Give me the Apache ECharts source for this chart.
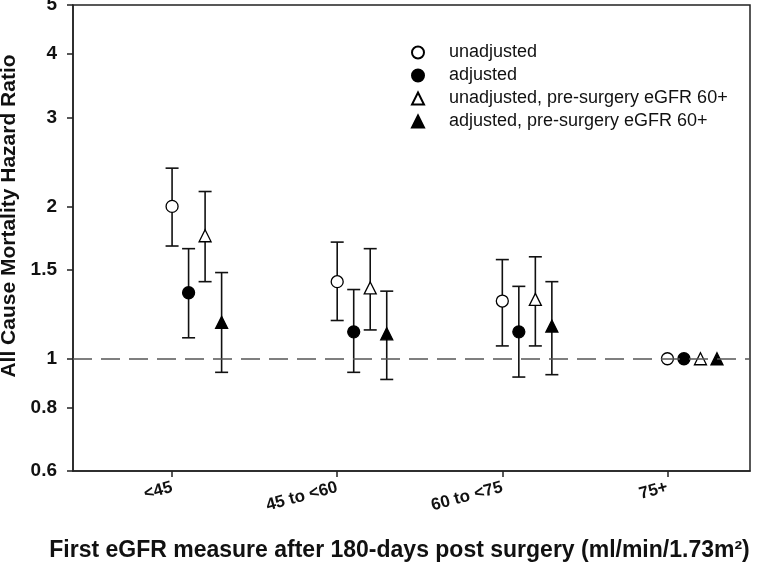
<!DOCTYPE html>
<html>
<head>
<meta charset="utf-8">
<title>All cause mortality hazard ratio by eGFR</title>
<script src="https://cdn.jsdelivr.net/npm/echarts@6/dist/echarts.min.js"></script>
<style>
  html, body { margin: 0; padding: 0; background: #fff; }
  #chart { width: 760px; height: 568px; }
</style>
</head>
<body>
<div id="chart"></div>
<script>
// eGFR groups (x axis)
var categories = ['<45', '45 to <60', '60 to <75', '75+']
var seriesNames = [
  'unadjusted',
  'adjusted',
  'unadjusted, pre-surgery eGFR 60+',
  'adjusted, pre-surgery eGFR 60+'
]

// hazard ratios + 95% CI (75+ is the reference group)
var unadjHR = [2.00, 1.42, 1.30, 1.00]
var unadjLo = [1.67, 1.19, 1.06, null]
var unadjHi = [2.38, 1.70, 1.57, null]

var adjHR = [1.35, 1.13, 1.13, 1.00]
var adjLo = [1.10, 0.94, 0.92, null]
var adjHi = [1.65, 1.37, 1.39, null]

var unadj60HR = [1.75, 1.38, 1.31, 1.00]
var unadj60Lo = [1.42, 1.14, 1.06, null]
var unadj60Hi = [2.14, 1.65, 1.59, null]

var adj60HR = [1.18, 1.12, 1.16, 1.00]
var adj60Lo = [0.94, 0.91, 0.93, null]
var adj60Hi = [1.48, 1.36, 1.42, null]

var yTicks = [0.6, 0.8, 1, 1.5, 2, 3, 4, 5]
var xTicks = [1, 2, 3, 4]

var FONT = 'Liberation Sans, Arial, Helvetica, sans-serif'
var dodge = 0.1 // horizontal shift between the four estimates of a group

var groups = [
  { hr: unadjHR, lo: unadjLo, hi: unadjHi, symbol: 'circle', fill: '#fff', size: 12 },
  { hr: adjHR, lo: adjLo, hi: adjHi, symbol: 'circle', fill: '#000', size: 12 },
  { hr: unadj60HR, lo: unadj60Lo, hi: unadj60Hi, symbol: 'triangle', fill: '#fff', size: 12 },
  { hr: adj60HR, lo: adj60Lo, hi: adj60Hi, symbol: 'triangle', fill: '#000', size: 12 }
]

function renderErr(params, api) {
  var x = api.value(0)
  var p1 = api.coord([x, api.value(1)])
  var p2 = api.coord([x, api.value(2)])
  var w = 6.5
  var st = { stroke: '#111', lineWidth: 1.6 }
  return {
    type: 'group',
    children: [
      { type: 'line', shape: { x1: p1[0], y1: p1[1], x2: p2[0], y2: p2[1] }, style: st },
      { type: 'line', shape: { x1: p1[0] - w, y1: p1[1], x2: p1[0] + w, y2: p1[1] }, style: st },
      { type: 'line', shape: { x1: p2[0] - w, y1: p2[1], x2: p2[0] + w, y2: p2[1] }, style: st }
    ]
  }
}

var series = []

// reference line at HR = 1
series.push({
  type: 'line',
  data: [],
  z: 1,
  silent: true,
  markLine: {
    silent: true,
    symbol: 'none',
    label: { show: false },
    lineStyle: { color: '#555', width: 1.5, type: [19, 9] },
    data: [{ yAxis: 1 }]
  }
})

groups.forEach(function (g, k) {
  var errData = []
  var pts = []
  categories.forEach(function (c, i) {
    var x = i + 1 + k * dodge
    pts.push([x, g.hr[i]])
    if (g.lo[i] != null) errData.push([x, g.lo[i], g.hi[i]])
  })
  series.push({
    type: 'custom',
    name: seriesNames[k] + ' CI',
    renderItem: renderErr,
    encode: { x: 0, y: [1, 2] },
    data: errData,
    z: 2,
    silent: true
  })
  series.push({
    type: 'scatter',
    name: seriesNames[k],
    data: pts,
    symbol: g.symbol,
    symbolSize: g.size,
    itemStyle: { color: g.fill, borderColor: '#000', borderWidth: 1.3, opacity: 1 },
    z: 3,
    silent: true
  })
})

var chart = echarts.init(document.getElementById('chart'))
chart.setOption({
  animation: false,
  backgroundColor: '#fff',
  textStyle: { fontFamily: FONT },
  grid: {
    left: 73, right: 10, top: 5, bottom: 97,
    show: true, borderColor: '#222', borderWidth: 1.5,
    containLabel: false, outerBoundsMode: 'none'
  },
  legend: {
    orient: 'vertical',
    left: 406,
    top: 38,
    itemWidth: 12,
    itemHeight: 12,
    itemGap: 4,
    data: seriesNames,
    textStyle: { fontFamily: FONT, fontSize: 18, color: '#111', padding: [0, 0, 0, 20], lineHeight: 19 }
  },
  xAxis: {
    type: 'value',
    min: 0.4,
    max: 4.5,
    splitLine: { show: false },
    axisLine: { show: true, lineStyle: { color: '#222', width: 1.5 } },
    axisTick: { show: true, length: 6, customValues: xTicks, lineStyle: { color: '#222', width: 1.5 } },
    axisLabel: {
      customValues: xTicks,
      rotate: 15,
      margin: 16,
      fontFamily: FONT,
      fontSize: 17,
      fontWeight: 'bold',
      color: '#111',
      formatter: function (v) { return categories[Math.round(v) - 1] || '' }
    },
    name: 'First eGFR measure after 180-days post surgery (ml/min/1.73m²)',
    nameLocation: 'middle',
    nameGap: 68,
    nameTextStyle: { fontFamily: FONT, fontSize: 23, fontWeight: 'bold', color: '#111', padding: [0, 24, 0, 0] }
  },
  yAxis: {
    type: 'log',
    logBase: 10,
    min: 0.6,
    max: 5,
    splitLine: { show: false },
    minorTick: { show: false },
    axisLine: { show: true, lineStyle: { color: '#222', width: 1.5 } },
    axisTick: { show: true, length: 6, customValues: yTicks, lineStyle: { color: '#222', width: 1.5 } },
    axisLabel: {
      customValues: yTicks,
      margin: 16,
      fontFamily: FONT,
      fontSize: 19,
      fontWeight: 'bold',
      color: '#111',
      formatter: function (v) { return String(+v.toFixed(2)) }
    },
    name: 'All Cause Mortality Hazard Ratio',
    nameLocation: 'middle',
    nameRotate: 90,
    nameGap: 50,
    nameTextStyle: { fontFamily: FONT, fontSize: 21, fontWeight: 'bold', color: '#111', padding: [0, 0, 0, 44] }
  },
  series: series
})
</script>
</body>
</html>
